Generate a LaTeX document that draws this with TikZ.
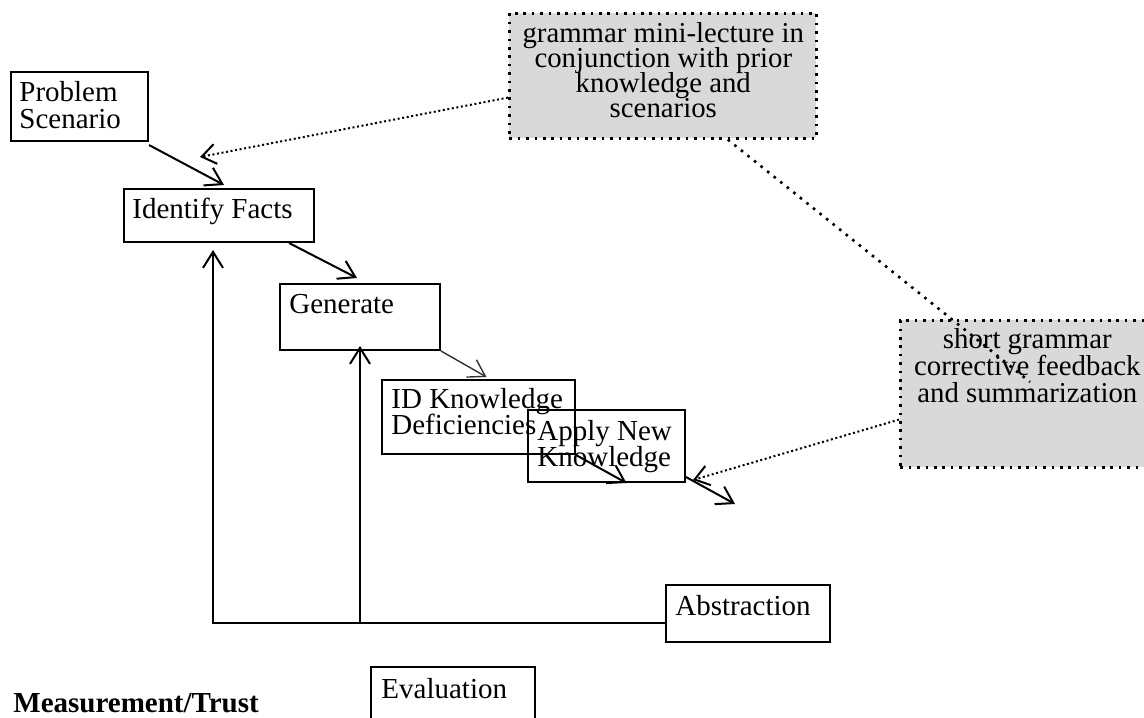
\documentclass[tikz,border=0pt]{standalone}
\usepackage{fontspec}
\setmainfont{Liberation Serif}
\usetikzlibrary{arrows.meta,calc}
\definecolor{boxgray}{RGB}{217,217,217}
\newcommand\stackL[1]{\vtop{\lineskiplimit=-\maxdimen\halign{##\hfil\cr#1\crcr}}}
\newcommand\stackC[1]{\vtop{\lineskiplimit=-\maxdimen\halign{\hfil##\hfil\cr#1\crcr}}}
\begin{document}
\begin{tikzpicture}[x=0.5pt,y=-0.5pt,
  box/.style={draw, line width=1pt, inner sep=0, anchor=north west},
  gbox/.style={draw, fill=boxgray, line width=1.3pt, dash pattern=on 1.3pt off 2.9pt, inner sep=0, anchor=north west},
  txt/.style={inner sep=0, anchor=base west, font=\fontsize{14.5}{13.3}\selectfont},
  gtxt/.style={inner sep=0, anchor=base},
  arr/.style={line width=1pt, -{Straight Barb[length=8pt,width=10pt]}},
  thinarr/.style={line width=0.7pt, draw=black!80, -{Straight Barb[length=8pt,width=10pt]}},
  darr/.style={line width=1pt, dash pattern=on 1pt off 1.3pt, -{Straight Barb[length=7pt,width=10pt]}},
  dline/.style={line width=1.3pt, dash pattern=on 1.3pt off 2.9pt}]
\useasboundingbox (0,0) rectangle (1144,717);
\clip (0,0) rectangle (1144,717);

% gray note boxes
\node[gbox, minimum width=153.5pt, minimum height=62.5pt] (g1) at (508,12) {};
\node[gtxt, font=\fontsize{14.4}{12.5}\selectfont] (g1t) at ($(g1.north)+(0.5,31)$)
  {\stackC{grammar mini-lecture in\cr conjunction with prior\cr knowledge and\cr scenarios}};
\node[gbox, minimum width=125pt, minimum height=73.5pt] (g2) at (899,319) {};
\node[gtxt, font=\fontsize{14.4}{13.5}\selectfont] (g2t) at ($(g2.north)+(2,29)$)
  {\stackC{short grammar\cr corrective feedback\cr and summarization}};

% process boxes
\node[box, minimum width=68.5pt, minimum height=34.5pt] (ps) at (10,71) {};
\node[txt] (pst) at ($(ps.north west)+(9,31)$) {\stackL{Problem\cr Scenario}};
\node[box, minimum width=95pt, minimum height=26.5pt] (if) at (123,188) {};
\node[txt] (ift) at ($(if.north west)+(9,30)$) {Identify Facts};
\node[box, minimum width=80pt, minimum height=33pt] (gen) at (279,283) {};
\node[txt] (gent) at ($(gen.north west)+(10,30)$) {Generate};
\node[box, minimum width=96.5pt, minimum height=37pt] (id) at (381,379) {};
\node[txt] (idt) at ($(id.north west)+(10,29)$) {\stackL{ID Knowledge\cr Deficiencies}};
\node[box, minimum width=78.5pt, minimum height=36pt] (ap) at (527,409) {};
\node[txt] (apt) at ($(ap.north west)+(10,31)$) {\stackL{Apply New\cr Knowledge}};
\node[box, minimum width=82pt, minimum height=28.5pt] (abs) at (665,584) {};
\node[txt] (abst) at ($(abs.north west)+(10,31)$) {Abstraction};
\node[box, minimum width=82pt, minimum height=40pt] (ev) at (370,666) {};
\node[txt] (evt) at ($(ev.north west)+(11,32)$) {Evaluation};
\node[txt, font=\fontsize{14.5}{13.3}\selectfont\bfseries] (mt) at (13,712) {Measurement/Trust};

% solid connectors
\draw[arr] ($(ps.south east)+(0,3)$) -- ($(if.north)+(5,-3)$);
\draw[arr] ($(if.south east)+(-26,0)$) -- ($(gen.north)+(-3,-5)$);
\draw[thinarr] (gen.south east) -- ($(id.north)+(8,-2)$);
\draw[arr] (id.south east) -- ($(ap.south)+(20,0)$);
\coordinate (out) at (735,504);
\draw[arr] ($(ap.south east)+(0,-6)$) -- (out);
\coordinate (bl) at ($(abs.south west)+(0,-20)$);
\draw[arr] (bl) -| ($(if.south)+(-6,7)$);
\draw[arr] (gen.south |- bl) -- ($(gen.south)+(0,-5)$);

% dotted connectors
\coordinate (c1) at (200,157);
\draw[darr] ($(g1.south west)+(0,-42)$) -- (c1);
\coordinate (c2) at (1030,382);
\draw[dline] ($(g1.south)+(65,0)$) -- (c2);
\coordinate (c3) at (693,480);
\draw[darr] ($(g2.south west)+(0,-49)$) -- (c3);
\end{tikzpicture}
\end{document}
